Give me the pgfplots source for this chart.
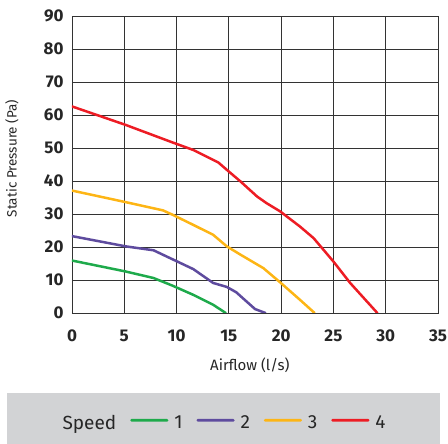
\documentclass[border=0pt]{standalone}
\usepackage{fontspec}
\setmainfont{Fira Sans}
\usepackage{pgfplots}
\pgfplotsset{compat=1.18}
\definecolor{cgreen}{HTML}{1EAA4B}
\definecolor{cpurple}{HTML}{5E4B9E}
\definecolor{corange}{HTML}{FDB515}
\definecolor{cred}{HTML}{ED1C24}
\definecolor{gridc}{HTML}{333333}
\definecolor{lgray}{HTML}{D2D3D5}
\pgfplotsset{
  speedlegend/.style={legend image code/.code={\fill[##1, draw=none, rounded corners=1.2pt] (0pt,1.2pt) rectangle (38pt,4pt);}}
}
\begin{document}
\begin{tikzpicture}[x=1pt,y=1pt]
\useasboundingbox (-72,-131) rectangle (376,313);
\fill[lgray] (-65,-80) rectangle (368,-131);
\begin{axis}[
  at={(0,0)}, anchor=south west,
  scale only axis, width=366pt, height=297pt,
  xmin=0, xmax=35, ymin=0, ymax=90,
  xtick={0,5,...,35}, ytick={0,10,...,90},
  grid=major,
  major grid style={color=gridc, line width=0.9pt},
  axis line style={gridc, line width=0.9pt},
  tick style={draw=none},
  ticklabel style={font=\bfseries\fontsize{17}{17}\selectfont, text=black!85},
  /pgf/number format/assume math mode=true,
  xticklabel style={yshift=-13pt},
  yticklabel style={xshift=-5pt},
  xlabel={Airflow (l/s)},
  ylabel={Static Pressure (Pa)},
  every axis x label/.style={at={(axis description cs:0.486,0)}, yshift=-52pt, anchor=center,
    font=\fontsize{15}{15}\selectfont, text=black!85},
  every axis y label/.style={at={(axis description cs:0,0.52)}, xshift=-60pt, rotate=90, anchor=center,
    font=\fontsize{13.5}{13.5}\selectfont, text=black!85},
  legend columns=-1,
  legend style={at={(axis description cs:0.41,-0.37)}, anchor=center, draw=none, fill=none,
    font=\fontsize{19}{19}\selectfont, text=black!85,
    /tikz/every even column/.append style={column sep=12pt},
    /tikz/every odd column/.append style={column sep=4pt}},
  every axis plot/.append style={line width=2.5pt, line join=round, line cap=round},
]
\addlegendimage{empty legend}
\addlegendentry{Speed}
\addplot[cgreen, speedlegend] coordinates {(0,15.9) (5.1,12.6) (7.8,10.6) (9.6,8.3) (11.6,5.5) (13.5,2.5) (14.7,0)};
\addlegendentry{1}
\addplot[cpurple, speedlegend] coordinates {(0,23.3) (5.13,20.2) (7.8,19.0) (9.6,16.3) (11.6,13.3) (13.5,9.1) (14.8,7.9) (15.7,6.3) (17.5,1.2) (18.5,0)};
\addlegendentry{2}
\addplot[corange, speedlegend] coordinates {(0,37.1) (5.13,33.6) (8.7,31.1) (9.6,29.8) (11.6,26.7) (13.5,23.7) (14.8,20.2) (16.1,17.7) (18.3,13.6) (19.9,9.3) (21.8,4.0) (23.2,0)};
\addlegendentry{3}
\addplot[cred, speedlegend] coordinates {(0,62.6) (5.13,57.0) (9.6,51.7) (11.6,49.4) (14.0,45.6) (14.8,43.4) (16.1,39.9) (17.7,35.3) (18.6,33.3) (19.9,30.8) (21.8,26.2) (23.1,22.7) (25.0,15.6) (26.6,9.1) (29.2,0)};
\addlegendentry{4}
\end{axis}
\end{tikzpicture}
\end{document}
